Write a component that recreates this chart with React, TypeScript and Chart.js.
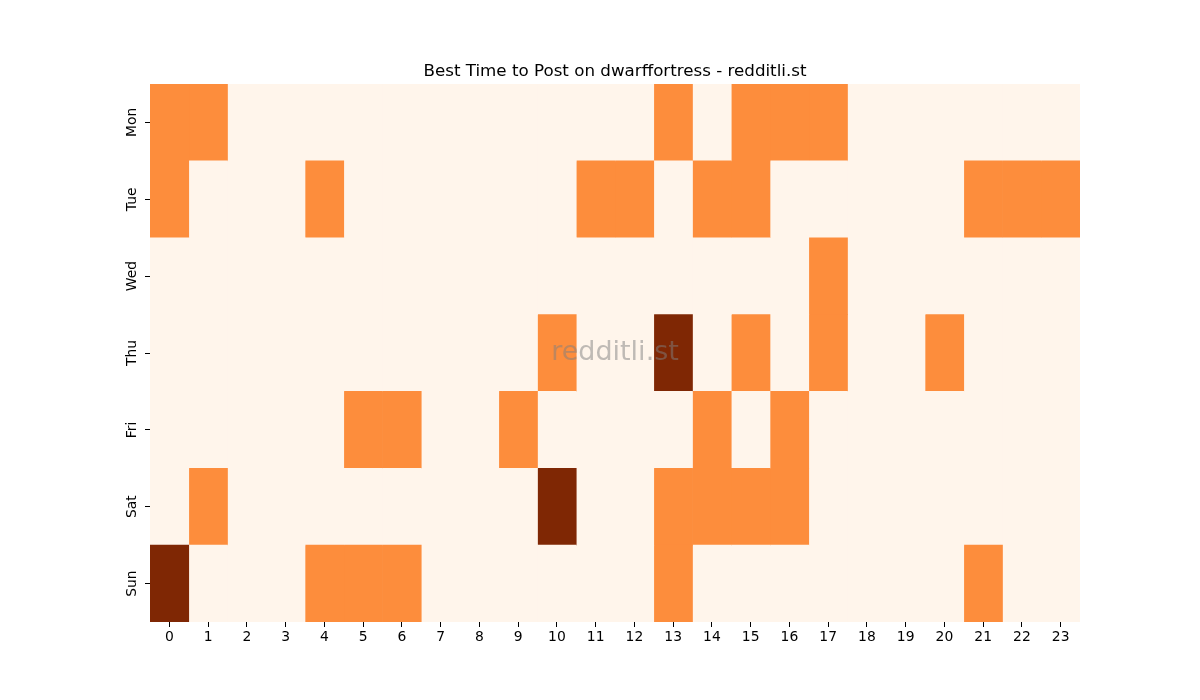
import { useEffect, useRef } from 'react';
import { Chart, registerables } from 'chart.js';

Chart.register(...registerables);

const days = ['Mon', 'Tue', 'Wed', 'Thu', 'Fri', 'Sat', 'Sun'];
const hours = ['0', '1', '2', '3', '4', '5', '6', '7', '8', '9', '10', '11',
   '12', '13', '14', '15', '16', '17', '18', '19', '20', '21', '22', '23'];

// post score per day, one value per hour (0 = low, 1 = good, 2 = best)
const mon = [1, 1, 0, 0, 0, 0, 0, 0, 0, 0, 0, 0, 0, 1, 0, 1, 1, 1, 0, 0, 0, 0, 0, 0];
const tue = [1, 0, 0, 0, 1, 0, 0, 0, 0, 0, 0, 1, 1, 0, 1, 1, 0, 0, 0, 0, 0, 1, 1, 1];
const wed = [0, 0, 0, 0, 0, 0, 0, 0, 0, 0, 0, 0, 0, 0, 0, 0, 0, 1, 0, 0, 0, 0, 0, 0];
const thu = [0, 0, 0, 0, 0, 0, 0, 0, 0, 0, 1, 0, 0, 2, 0, 1, 0, 1, 0, 0, 1, 0, 0, 0];
const fri = [0, 0, 0, 0, 0, 1, 1, 0, 0, 1, 0, 0, 0, 0, 1, 0, 1, 0, 0, 0, 0, 0, 0, 0];
const sat = [0, 1, 0, 0, 0, 0, 0, 0, 0, 0, 2, 0, 0, 1, 1, 1, 1, 0, 0, 0, 0, 0, 0, 0];
const sun = [2, 0, 0, 0, 1, 1, 1, 0, 0, 0, 0, 0, 0, 1, 0, 0, 0, 0, 0, 0, 0, 1, 0, 0];

const rows = [mon, tue, wed, thu, fri, sat, sun];
const palette = ['#fff5eb', '#fd8d3c', '#7f2704'];

const FONT = "'DejaVu Sans', sans-serif";

const overlayPlugin = {
   id: 'overlay',
   afterDraw(chart: Chart) {
      const { ctx, chartArea } = chart;
      const cx = (chartArea.left + chartArea.right) / 2;
      ctx.save();
      ctx.textAlign = 'center';
      ctx.textBaseline = 'alphabetic';
      ctx.fillStyle = '#000';
      ctx.font = `16.7px ${FONT}`;
      ctx.fillText('Best Time to Post on dwarffortress - redditli.st', cx, chartArea.top - 8);
      ctx.fillStyle = 'rgba(128,128,128,0.5)';
      ctx.font = `27px ${FONT}`;
      ctx.textBaseline = 'middle';
      ctx.fillText('redditli.st', cx, (chartArea.top + chartArea.bottom) / 2);
      ctx.restore();
   }
};

export default function App() {
   const chartRef = useRef<HTMLCanvasElement>(null);
   const chartInstance = useRef<Chart | null>(null);

   useEffect(() => {
      document.body.style.margin = '0';
      if (!chartRef.current) return;
      const ctx = chartRef.current.getContext('2d');
      if (!ctx) return;

      if (chartInstance.current) {
         chartInstance.current.destroy();
      }

      // one stacked dataset per hour, each cell has width 1
      const datasets = hours.map((h, hi) => ({
         label: h,
         data: days.map(() => 1),
         backgroundColor: rows.map(r => palette[r[hi]]),
         borderWidth: 0,
         barPercentage: 1,
         categoryPercentage: 1,
      }));

      chartInstance.current = new Chart(ctx, {
         type: 'bar',
         data: { labels: days, datasets },
         options: {
            indexAxis: 'y',
            responsive: false,
            animation: false,
            layout: { padding: { left: 118, right: 120, top: 84, bottom: 48 } },
            plugins: {
               legend: { display: false },
               tooltip: { enabled: false },
            },
            scales: {
               x: {
                  type: 'linear',
                  stacked: true,
                  min: 0,
                  max: 24,
                  border: { display: false },
                  grid: { drawOnChartArea: false, drawTicks: true, tickLength: 5, color: '#000' },
                  afterBuildTicks: (scale: any) => {
                     scale.ticks = hours.map((_, i) => ({ value: i + 0.5 }));
                  },
                  afterFit: (scale: any) => { scale.height = 30; },
                  ticks: {
                     autoSkip: false,
                     maxRotation: 0,
                     color: '#000',
                     font: { family: FONT, size: 13.9 },
                     padding: 2,
                     callback: (_v: any, i: number) => hours[i],
                  },
               },
               y: {
                  type: 'category',
                  stacked: true,
                  border: { display: false },
                  grid: { offset: false, drawOnChartArea: false, drawTicks: true, tickLength: 5, color: '#000' },
                  afterFit: (scale: any) => { scale.width = 32; },
                  ticks: {
                     minRotation: 90,
                     maxRotation: 90,
                     crossAlign: 'center',
                     color: '#000',
                     font: { family: FONT, size: 13.9 },
                     padding: -3,
                  },
               },
            },
         },
         plugins: [overlayPlugin],
      });

      return () => {
         if (chartInstance.current) {
            chartInstance.current.destroy();
            chartInstance.current = null;
         }
      };
   }, []);

   return (
      <div style={{ width: 1200, height: 700, background: '#fff' }}>
         <canvas ref={chartRef} width={1200} height={700}></canvas>
      </div>
   );
}
